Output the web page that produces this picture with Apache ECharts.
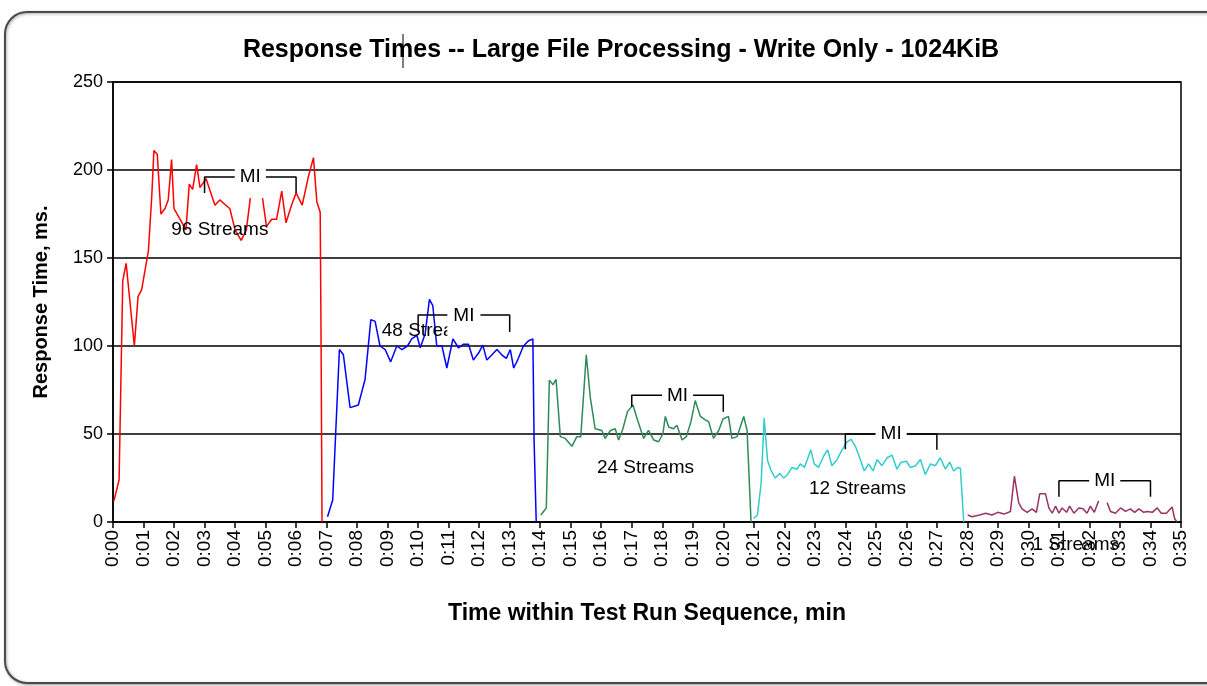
<!DOCTYPE html>
<html>
<head>
<meta charset="utf-8">
<script src="https://cdn.jsdelivr.net/npm/echarts@6/dist/echarts.min.js"></script>
<style>
  html, body { margin: 0; padding: 0; background: #fff; }
  #main { width: 1207px; height: 686px; }
</style>
</head>
<body>
<div id="main"></div>
<script>
// [minute, response time ms]
const streams96 = [[0.03,12],[0.2,24],[0.28,100],[0.32,137],[0.43,147],[0.7,100],[0.82,128],[0.94,132],[1.16,154],
  [1.27,185],[1.34,211],[1.45,209],[1.57,175],[1.7,178],[1.81,183],[1.92,206],[2.0,178],[2.2,172],[2.39,166],[2.5,192],
  [2.61,189],[2.74,203],[2.85,190],[3.05,195],[3.34,180],[3.5,183],[3.7,180],[3.83,178],[4.0,166],[4.2,160],[4.37,166],
  [4.5,184],[4.7,null],[4.9,184],[5.03,168],[5.2,172],[5.36,172],[5.53,188],[5.67,170],[5.85,180],[6.0,187],[6.2,180],
  [6.4,196],[6.57,207],[6.68,182],[6.79,176],[6.82,100],[6.85,0]];
const streams48 = [[7.03,3],[7.2,12.5],[7.42,98],[7.55,95],[7.77,65],[8.04,66.5],[8.26,81],[8.45,115],[8.59,114],
  [8.75,100],[8.92,98],[9.1,91],[9.3,100],[9.47,98],[9.65,100],[9.79,104],[9.96,106],[10.07,99],[10.23,107],[10.37,126.5],
  [10.48,123],[10.61,100],[10.78,100],[10.94,87.5],[11.14,104],[11.32,99],[11.49,101],[11.65,101],[11.81,92],[11.98,96],
  [12.12,100.5],[12.25,92],[12.42,95],[12.58,98],[12.74,95],[12.89,93],[13.02,98],[13.13,87.5],[13.26,92],[13.45,100],
  [13.62,103],[13.76,104],[13.8,46],[13.87,0]];
const streams24 = [[14.02,4],[14.2,8],[14.3,80.6],[14.42,78],[14.52,81],[14.66,48.5],[14.82,47.5],[15.04,43],[15.2,48.5],
  [15.33,48.5],[15.51,95],[15.64,71],[15.8,53],[16.02,52],[16.13,47.5],[16.3,52],[16.46,53],[16.57,46.6],[16.71,53],
  [16.86,62.7],[17.04,66.5],[17.19,58],[17.39,47.5],[17.55,52],[17.72,46.6],[17.88,45.6],[18.02,50],[18.1,60],[18.21,54],
  [18.37,53],[18.48,55],[18.65,46.6],[18.79,48.5],[18.94,57],[19.08,69],[19.25,60],[19.41,58],[19.52,57],[19.68,47.5],
  [19.85,52],[19.99,58.5],[20.17,60],[20.28,47.5],[20.45,48.5],[20.67,60],[20.78,52],[20.91,0]];
const streams12 = [[20.99,2],[21.12,4],[21.24,22],[21.34,59],[21.45,35],[21.56,29.5],[21.7,25],[21.85,27.5],[21.98,25],
  [22.11,27],[22.25,31],[22.42,30],[22.52,33],[22.66,31],[22.87,41],[22.98,33],[23.12,31],[23.29,37.5],[23.42,41],
  [23.56,32],[23.73,35.5],[23.89,41],[24.06,45.6],[24.19,47],[24.33,43],[24.49,35.5],[24.62,29],[24.76,33],[24.91,29],
  [25.04,35.5],[25.2,32],[25.37,36.5],[25.53,38],[25.69,30],[25.83,34],[26.0,34.5],[26.13,31],[26.3,32],[26.46,35.5],
  [26.62,27],[26.79,33],[26.95,32],[27.11,36.5],[27.28,30],[27.42,34],[27.55,29],[27.68,31],[27.77,30.5],[27.88,0]];
const streams1 = [[28.01,4],[28.15,3],[28.4,4],[28.6,5],[28.8,4],[29.0,5.5],[29.2,4.5],[29.41,6],[29.54,26],[29.68,11],
  [29.79,7.5],[29.96,5.5],[30.12,7.5],[30.26,5.5],[30.37,16],[30.56,16],[30.67,8],[30.78,5],[30.89,9],[31.0,5],[31.1,8],
  [31.25,5.5],[31.35,9],[31.49,5],[31.65,8],[31.79,7.5],[31.92,5],[32.03,9],[32.16,5.5],[32.3,12],[32.45,null],[32.58,11],
  [32.69,6],[32.85,5],[33.02,8],[33.18,6],[33.34,7.5],[33.48,5.5],[33.62,7.5],[33.78,5.5],[33.89,6],[34.06,5.5],[34.22,8],
  [34.35,5],[34.52,5],[34.71,8.5],[34.79,2],[34.87,0]];

const seriesData = [streams96, streams48, streams24, streams12, streams1];
const seriesColors = ['#ff0000', '#0000ff', '#2e8b57', '#33cccc', '#993366'];

// stream labels
const streamNames = ['96 Streams', '48 Streams', '24 Streams', '12 Streams', '1 Streams'];
const streamNameAt = [[3.5,166],[10.4,108.5],[17.45,31],[24.4,19],[31.55,-13]];

// measurement interval brackets
const miStart = [3, 10, 17, 24, 31];
const miEnd = [6, 13, 20, 27, 34];
const miTop = [196, 117.6, 72, 50, 23.5];
const miFootL = [187, 108, 65.5, 41.3, 14.4];
const miFootR = [187, 108, 62.7, 41, 14.4];

const yTicks = [0, 50, 100, 150, 200, 250];

const chart = echarts.init(document.getElementById('main'));

const series = [];
seriesData.forEach((d, i) => {
  series.push({
    type: 'line',
    data: d,
    showSymbol: false,
    connectNulls: false,
    z: 3,
    lineStyle: { color: seriesColors[i], width: 1.5 },
    itemStyle: { color: seriesColors[i] }
  });
});

series.push({
  type: 'scatter',
  symbolSize: 1,
  clip: false,
  z: 4,
  itemStyle: { color: 'rgba(0,0,0,0)', opacity: 1 },
  data: streamNameAt.map((p, i) => ({ value: p, name: streamNames[i] })),
  label: {
    show: true, position: 'inside', formatter: '{b}',
    color: '#000', fontSize: 19, fontFamily: 'Liberation Sans'
  }
});

miStart.forEach((s, i) => {
  series.push({
    type: 'line',
    data: [[s, miFootL[i]], [s, miTop[i]], [miEnd[i], miTop[i]], [miEnd[i], miFootR[i]]],
    showSymbol: false,
    z: 5,
    lineStyle: { color: '#000', width: 1.5 },
    itemStyle: { color: '#000' }
  });
});

series.push({
  type: 'scatter',
  symbolSize: 1,
  clip: false,
  z: 6,
  itemStyle: { color: 'rgba(0,0,0,0)', opacity: 1 },
  data: miStart.map((s, i) => {
    const item = { value: [(s + miEnd[i]) / 2, miTop[i]] };
    // the 48-stream MI box is taller and hides the end of its label
    if (i === 1) item.label = { padding: [3, 6, 20, 6], offset: [0, 1] };
    return item;
  }),
  label: {
    show: true, position: 'inside', formatter: 'MI',
    color: '#000', fontSize: 19, fontFamily: 'Liberation Sans',
    backgroundColor: '#fff', padding: [3, 5, 6, 5]
  }
});

chart.setOption({
  animation: false,
  backgroundColor: '#fff',
  title: {
    text: 'Response Times -- Large File Processing - Write Only - 1024KiB',
    left: 616,
    textAlign: 'center',
    top: 33,
    textStyle: { fontFamily: 'Liberation Sans', fontWeight: 'bold', fontSize: 25, color: '#000' }
  },
  grid: {
    left: 113, top: 82, width: 1068, height: 440,
    show: true, borderColor: '#000', borderWidth: 1.5, backgroundColor: 'transparent'
  },
  xAxis: {
    type: 'value',
    min: 0, max: 35, interval: 1,
    name: 'Time within Test Run Sequence, min',
    nameLocation: 'middle',
    nameGap: 80,
    nameTextStyle: { fontFamily: 'Liberation Sans', fontWeight: 'bold', fontSize: 23, color: '#000' },
    axisLine: { lineStyle: { color: '#000', width: 1.5 } },
    axisTick: { show: true, length: 6, lineStyle: { color: '#000', width: 1.5 } },
    splitLine: { show: false },
    axisLabel: {
      rotate: 90, margin: 8, fontSize: 19, color: '#000', fontFamily: 'Liberation Sans',
      formatter: v => '0:' + String(v).padStart(2, '0')
    }
  },
  yAxis: {
    type: 'value',
    min: yTicks[0], max: yTicks[yTicks.length - 1], interval: 50,
    name: 'Response Time, ms.',
    nameLocation: 'middle',
    nameGap: 62,
    nameTextStyle: { fontFamily: 'Liberation Sans', fontWeight: 'bold', fontSize: 20, color: '#000' },
    axisLine: { show: true, lineStyle: { color: '#000', width: 1.5 } },
    axisTick: { show: true, length: 6, lineStyle: { color: '#000', width: 1.5 } },
    splitLine: { show: true, lineStyle: { color: '#000', width: 1.5 } },
    axisLabel: { fontSize: 18, color: '#000', margin: 10, fontFamily: 'Liberation Sans' }
  },
  graphic: [
    {
      type: 'rect', z: -10,
      shape: { x: 5, y: 12, width: 1230, height: 671, r: 22 },
      style: { fill: '#fff', stroke: '#4a4a4a', lineWidth: 2,
        shadowBlur: 3, shadowColor: 'rgba(0,0,0,0.35)', shadowOffsetX: 1, shadowOffsetY: 1 }
    },
    {
      type: 'line', z: 10,
      shape: { x1: 403, y1: 34, x2: 403, y2: 68 },
      style: { stroke: '#000', lineWidth: 1 }
    }
  ],
  series: series
});
</script>
</body>
</html>
